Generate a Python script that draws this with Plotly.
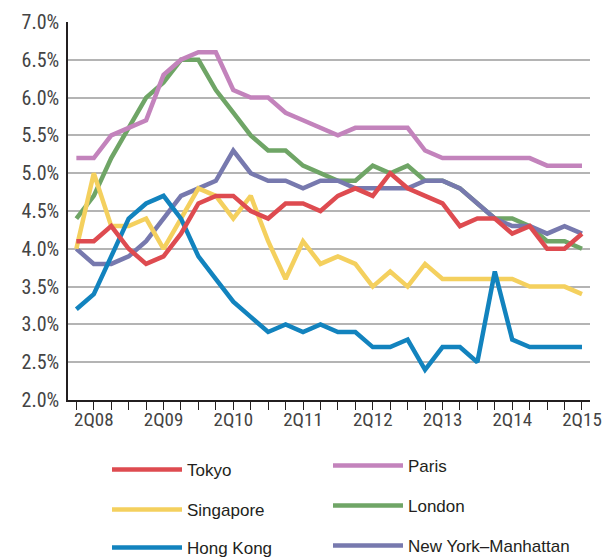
import plotly.graph_objects as go

# quarters 1Q08 .. 2Q15
years = ["08", "09", "10", "11", "12", "13", "14", "15"]
quarters = [f"{q}Q{y}" for y in years for q in range(1, 5)][:30]
tick_labels = [q if q.startswith("2Q") else "" for q in quarters]

tokyo = [4.1, 4.1, 4.3, 4.0, 3.8, 3.9, 4.2, 4.6, 4.7, 4.7, 4.5, 4.4, 4.6, 4.6, 4.5,
         4.7, 4.8, 4.7, 5.0, 4.8, 4.7, 4.6, 4.3, 4.4, 4.4, 4.2, 4.3, 4.0, 4.0, 4.2]
paris = [5.2, 5.2, 5.5, 5.6, 5.7, 6.3, 6.5, 6.6, 6.6, 6.1, 6.0, 6.0, 5.8, 5.7, 5.6,
         5.5, 5.6, 5.6, 5.6, 5.6, 5.3, 5.2, 5.2, 5.2, 5.2, 5.2, 5.2, 5.1, 5.1, 5.1]
singapore = [4.0, 5.0, 4.3, 4.3, 4.4, 4.0, 4.4, 4.8, 4.7, 4.4, 4.7, 4.1, 3.6, 4.1, 3.8,
             3.9, 3.8, 3.5, 3.7, 3.5, 3.8, 3.6, 3.6, 3.6, 3.6, 3.6, 3.5, 3.5, 3.5, 3.4]
london = [4.4, 4.7, 5.2, 5.6, 6.0, 6.2, 6.5, 6.5, 6.1, 5.8, 5.5, 5.3, 5.3, 5.1, 5.0,
          4.9, 4.9, 5.1, 5.0, 5.1, 4.9, 4.9, 4.8, 4.6, 4.4, 4.4, 4.3, 4.1, 4.1, 4.0]
hong_kong = [3.2, 3.4, 3.9, 4.4, 4.6, 4.7, 4.4, 3.9, 3.6, 3.3, 3.1, 2.9, 3.0, 2.9, 3.0,
             2.9, 2.9, 2.7, 2.7, 2.8, 2.4, 2.7, 2.7, 2.5, 3.7, 2.8, 2.7, 2.7, 2.7, 2.7]
new_york = [4.0, 3.8, 3.8, 3.9, 4.1, 4.4, 4.7, 4.8, 4.9, 5.3, 5.0, 4.9, 4.9, 4.8, 4.9,
            4.9, 4.8, 4.8, 4.8, 4.8, 4.9, 4.9, 4.8, 4.6, 4.4, 4.3, 4.3, 4.2, 4.3, 4.2]

# (name, values, colour, legend id) in drawing order
series = [
    ("London", london, "#6FA566", "legend4"),
    ("Paris", paris, "#C383BC", "legend2"),
    ("New York\u2013Manhattan", new_york, "#7779AE", "legend6"),
    ("Singapore", singapore, "#F4D05E", "legend3"),
    ("Hong Kong", hong_kong, "#1283BE", "legend5"),
    ("Tokyo", tokyo, "#DE4B50", "legend"),
]

fig = go.Figure()
for name, vals, color, leg in series:
    fig.add_trace(go.Scatter(
        x=quarters, y=vals, name=name, mode="lines",
        line=dict(color=color, width=4.5), legend=leg, showlegend=True,
    ))

narrow = "Liberation Sans Narrow, Roboto Condensed, Arial Narrow, sans-serif"
leg_font = dict(family="Liberation Sans, Arial, sans-serif", size=17, color="#231f20")

fig.update_xaxes(
    type="category", range=[-0.48, 29.46], automargin=False,
    tickmode="array", tickvals=quarters, ticktext=tick_labels,
    ticks="outside", ticklen=8, tickwidth=1.2, tickcolor="#231f20",
    showline=True, linecolor="#231f20", linewidth=1.5,
    showgrid=False, tickangle=0, ticklabelstandoff=-7,
    tickfont=dict(family=narrow, size=19, color="#444444"),
)
fig.update_yaxes(
    range=[2.0, 7.0], tickmode="linear", tick0=2.0, dtick=0.5, automargin=False,
    tickformat=".1f", ticksuffix="%",
    showline=True, linecolor="#231f20", linewidth=1.5,
    showgrid=True, gridcolor="#B4B4B4", gridwidth=1.5,
    zeroline=False, ticks="", ticklabelstandoff=3,
    tickfont=dict(family=narrow, size=20, color="#444444"),
)

# the page body adds an 8px offset; plot area (figure px) spans 60..582 x 14..392
L, B, W, H = 60, 392, 522, 378


def legend_at(x_px, y_px):
    return dict(
        xref="paper", yref="paper",
        x=(x_px - L) / W, y=(B - y_px) / H,
        xanchor="left", yanchor="middle", itemwidth=70,
        font=leg_font, bgcolor="rgba(0,0,0,0)", borderwidth=0,
        itemclick=False, itemdoubleclick=False,
    )


fig.update_layout(
    width=603, height=552, showlegend=True,
    margin=dict(l=60, r=21, t=14, b=160, autoexpand=False),
    plot_bgcolor="white", paper_bgcolor="white",
    legend=legend_at(99, 462),
    legend2=legend_at(320, 458),
    legend3=legend_at(99, 502),
    legend4=legend_at(320, 498),
    legend5=legend_at(99, 540),
    legend6=legend_at(320, 538),
)

fig.write_html("out.html")
